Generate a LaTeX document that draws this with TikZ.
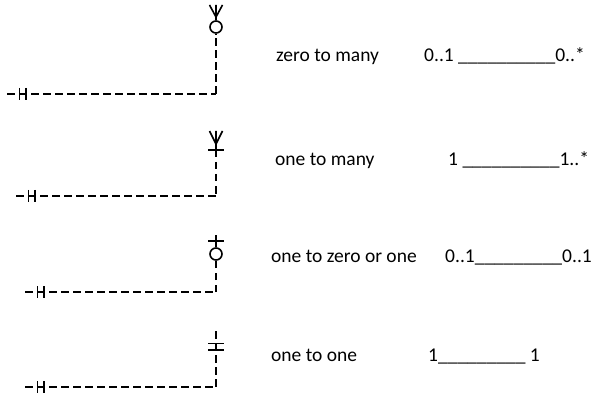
\documentclass[tikz,border=0pt]{standalone}
\usepackage{fontspec}
\setmainfont{Carlito}
\usetikzlibrary{positioning}

\begin{document}
\begin{tikzpicture}[x=1pt, y=-1pt, font=\fontsize{19.5}{23}\selectfont,
          ln/.style={line width=1.6pt},
          dashln/.style={ln, dash pattern=on 7.5pt off 4.5pt},
          ring/.style={draw, circle, line width=1.6pt, minimum size=12pt, inner sep=0pt},
          lbl/.style={anchor=base west, inner sep=0pt}]
        \useasboundingbox (0,0) rectangle (593,395);

        % zero to many
        \coordinate (l1) at (7,94);
        \coordinate (k1) at (216,94);
        \node[ring] (o1) at (216,27) {};
        \coordinate (f1) at (216,17);
        \draw[dashln] (l1) -- (k1);
        \draw[dashln] (k1) -- (o1.south);
        \draw[ln] (19.5,88) -- (19.5,100) (26,88) -- (26,100);
        \draw[ln] (o1.north) -- (216,5) (f1) -- (209.5,5) (f1) -- (222.5,5);
        \node[lbl] (txt1)  at (276,62) {zero to many};
        \node[lbl] (card1) at (424,62) {0..1 \_\_\_\_\_\_\_\_\_\_0..*};

        % one to many
        \coordinate (l2) at (16,196);
        \coordinate (k2) at (216,196);
        \coordinate (b2) at (216,150);
        \coordinate (f2) at (216,144);
        \draw[dashln] (l2) -- (k2);
        \draw[dashln] (b2) -- (k2);
        \draw[ln] (28.5,190) -- (28.5,202) (35,190) -- (35,202);
        \draw[ln] (208,150) -- (224,150);
        \draw[ln] (b2) -- (216,131) (f2) -- (209.5,131) (f2) -- (222.5,131);
        \node[lbl] (txt2)  at (275,166) {one to many};
        \node[lbl] (card2) at (448,166) {1 \_\_\_\_\_\_\_\_\_\_1..*};

        % one to zero or one
        \coordinate (l3) at (25,292);
        \coordinate (k3) at (216,292);
        \node[ring] (o3) at (216,254) {};
        \draw[dashln] (l3) -- (k3);
        \draw[dashln] (k3) -- (o3.south);
        \draw[ln] (37.5,286) -- (37.5,298) (44,286) -- (44,298);
        \draw[ln] (o3.north) -- (216,235) (208,241) -- (224,241);
        \node[lbl] (txt3)  at (271,262) {one to zero or one};
        \node[lbl] (card3) at (445,262) {0..1\_\_\_\_\_\_\_\_\_0..1};

        % one to one
        \coordinate (l4) at (25,387);
        \coordinate (k4) at (216,387);
        \coordinate (t4) at (216,331);
        \draw[dashln] (l4) -- (k4);
        \draw[dashln] (t4) -- (k4);
        \draw[ln] (37.5,381) -- (37.5,393) (44,381) -- (44,393);
        \draw[ln] (208,343.5) -- (224,343.5) (208,350) -- (224,350);
        \node[lbl] (txt4)  at (271,361) {one to one};
        \node[lbl] (card4) at (428,361) {1\_\_\_\_\_\_\_\_\_ 1};
      \end{tikzpicture}
\end{document}
